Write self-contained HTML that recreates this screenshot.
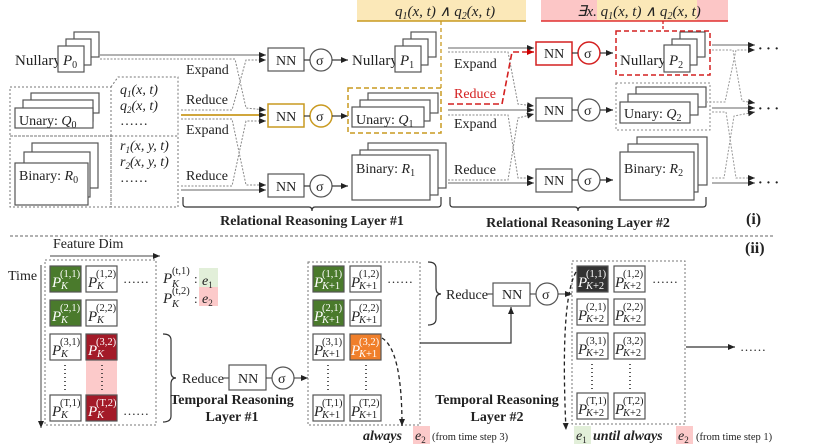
<!DOCTYPE html>
<html><head><meta charset="utf-8"><style>
html,body{margin:0;padding:0;background:#fff}
svg{display:block}
text{font-family:"Liberation Serif",serif;fill:#222}
.s{font-family:"Liberation Serif",serif;font-size:10.5px}
.i{font-style:italic}
.b{font-weight:bold}
</style></head><body>
<svg width="830" height="448" viewBox="0 0 830 448" xmlns="http://www.w3.org/2000/svg">
<defs>
<marker id="a" markerWidth="8" markerHeight="8" refX="7" refY="4" orient="auto" markerUnits="userSpaceOnUse"><path d="M0,1 L7,4 L0,7 z" fill="#222"/></marker>
<marker id="ar" markerWidth="8" markerHeight="8" refX="7" refY="4" orient="auto" markerUnits="userSpaceOnUse"><path d="M0,1 L7,4 L0,7 z" fill="#c00"/></marker>
</defs>

<!-- ===== TOP ===== -->
<rect x="357" y="0" width="169" height="21" fill="#fbe8b8"/>
<line x1="357" y1="21" x2="526" y2="21" stroke="#c99a20" stroke-width="1.5"/>
<text x="395" y="16" font-size="15" class="i">q<tspan font-size="10" dy="3">1</tspan><tspan dy="-3">(x, t) ∧ q</tspan><tspan font-size="10" dy="3">2</tspan><tspan dy="-3">(x, t)</tspan></text>
<rect x="541" y="0" width="187" height="21" fill="#fcc6c6"/>
<rect x="597" y="0" width="100" height="21" fill="#fbe8b8"/>
<line x1="541" y1="21" x2="728" y2="21" stroke="#e03030" stroke-width="1.5"/>
<text x="577" y="16" font-size="15" class="i">∃x. q<tspan font-size="10" dy="3">1</tspan><tspan dy="-3">(x, t) ∧ q</tspan><tspan font-size="10" dy="3">2</tspan><tspan dy="-3">(x, t)</tspan></text>

<!-- Nullary P0 -->
<text x="15" y="65" font-size="15">Nullary</text>
<g fill="#fff" stroke="#555" stroke-width="1.2">
<rect x="74" y="32" width="25" height="25"/><rect x="66" y="39" width="25" height="26"/><rect x="58" y="46" width="26" height="26"/>
</g>
<text x="63" y="65" font-size="15" class="i">P<tspan font-size="10" dy="3" font-style="normal">0</tspan></text>

<!-- dashed boxes left -->
<g fill="none" stroke="#777" stroke-dasharray="2,2">
<rect x="10" y="87" width="101" height="49"/>
<rect x="10" y="136" width="101" height="71"/>
<path d="M111,136 L111,87 L104,87 M111,87 L118,77 L178,77 L178,136 L111,136"/>
<rect x="111" y="136" width="67" height="71"/>
</g>
<g fill="#fff" stroke="#555" stroke-width="1.2">
<rect x="31" y="93" width="68" height="20"/><rect x="23" y="100" width="70" height="21"/><rect x="15" y="108" width="78" height="20"/>
<rect x="32" y="143" width="66" height="45"/><rect x="24" y="152" width="66" height="45"/><rect x="15" y="163" width="73" height="42"/>
</g>
<text x="19" y="125" font-size="14">Unary: <tspan class="i">Q</tspan><tspan font-size="10" dy="3">0</tspan></text>
<text x="19" y="180" font-size="14">Binary: <tspan class="i">R</tspan><tspan font-size="10" dy="3">0</tspan></text>
<g font-size="14" class="i">
<text x="120" y="94">q<tspan font-size="9" dy="3">1</tspan><tspan dy="-3">(x, t)</tspan></text>
<text x="120" y="110">q<tspan font-size="9" dy="3">2</tspan><tspan dy="-3">(x, t)</tspan></text>
<text x="120" y="150">r<tspan font-size="9" dy="3">1</tspan><tspan dy="-3">(x, y, t)</tspan></text>
<text x="120" y="166">r<tspan font-size="9" dy="3">2</tspan><tspan dy="-3">(x, y, t)</tspan></text>
</g>
<text x="120" y="125" font-size="14">……</text>
<text x="120" y="182" font-size="14">……</text>

<!-- layer 1 connectors -->
<g fill="none" stroke="#666" stroke-width="1">
<path d="M100,55 L266,55" marker-end="url(#a)"/>
<path d="M181,190 L266,190" marker-end="url(#a)"/>
</g>
<g fill="none" stroke="#888" stroke-width="1" stroke-dasharray="2,1.5">
<path d="M100,59 L235,59 L246,108 L266,110" marker-end="url(#a)"/>
<path d="M181,110 L232,110 L246,60 L266,60" marker-end="url(#a)"/>
<path d="M181,119 L232,119 L246,185 L266,185" marker-end="url(#a)"/>
<path d="M181,186 L232,186 L246,121 L266,121" marker-end="url(#a)"/>
</g>
<path d="M181,115 L266,115" stroke="#c99a20" stroke-width="1.8" fill="none" marker-end="url(#a)"/>
<g font-size="14">
<text x="186" y="74">Expand</text><text x="186" y="104">Reduce</text>
<text x="186" y="134">Expand</text><text x="186" y="180">Reduce</text>
</g>

<!-- NN layer1 -->
<g fill="#fff" stroke="#555" stroke-width="1.2">
<rect x="268" y="48" width="36" height="23"/><rect x="268" y="174" width="36" height="23"/>
<circle cx="321" cy="60" r="11"/><circle cx="321" cy="186" r="11"/>
</g>
<rect x="268" y="104" width="36" height="23" fill="#fff" stroke="#c99a20" stroke-width="1.5"/>
<circle cx="321" cy="116" r="11" fill="#fff" stroke="#c99a20" stroke-width="1.5"/>
<g stroke="#333" stroke-width="1.2"><line x1="304" y1="60" x2="310" y2="60"/><line x1="304" y1="116" x2="310" y2="116"/><line x1="304" y1="186" x2="310" y2="186"/>
<line x1="332" y1="60" x2="348" y2="60" marker-end="url(#a)"/><line x1="332" y1="116" x2="348" y2="116" marker-end="url(#a)"/><line x1="332" y1="186" x2="348" y2="186" marker-end="url(#a)"/></g>
<g font-size="14"><text x="276" y="65">NN</text><text x="276" y="121">NN</text><text x="276" y="191">NN</text>
<text x="316" y="65">σ</text><text x="316" y="121">σ</text><text x="316" y="191">σ</text></g>

<!-- layer1 outputs -->
<text x="352" y="65" font-size="15">Nullary</text>
<g fill="#fff" stroke="#555" stroke-width="1.2">
<rect x="411" y="32" width="25" height="25"/><rect x="403" y="39" width="25" height="26"/><rect x="395" y="46" width="26" height="26"/>
<rect x="368" y="93" width="70" height="20"/><rect x="360" y="100" width="70" height="21"/><rect x="352" y="107" width="72" height="20"/>
<rect x="368" y="143" width="78" height="45"/><rect x="360" y="150" width="78" height="45"/><rect x="352" y="155" width="78" height="45"/>
</g>
<text x="400" y="65" font-size="15" class="i">P<tspan font-size="10" dy="3" font-style="normal">1</tspan></text>
<text x="356" y="124" font-size="14">Unary: <tspan class="i">Q</tspan><tspan font-size="10" dy="3">1</tspan></text>
<text x="356" y="173" font-size="14">Binary: <tspan class="i">R</tspan><tspan font-size="10" dy="3">1</tspan></text>
<rect x="348" y="88" width="93" height="45" fill="none" stroke="#c99a20" stroke-width="1.5" stroke-dasharray="5,3"/>
<line x1="441" y1="21" x2="441" y2="88" stroke="#c99a20" stroke-width="1.3" stroke-dasharray="4,3"/>

<!-- layer 2 connectors -->
<g fill="none" stroke="#666" stroke-width="1">
<path d="M448,48 L534,48" marker-end="url(#a)"/>
<path d="M448,110 L534,110" marker-end="url(#a)"/>
<path d="M448,183 L534,183" marker-end="url(#a)"/>
</g>
<g fill="none" stroke="#888" stroke-width="1" stroke-dasharray="2,1.5">
<path d="M448,52 L508,52 L518,104 L534,106" marker-end="url(#a)"/>
<path d="M448,115 L508,115 L518,178 L534,178" marker-end="url(#a)"/>
<path d="M448,180 L508,180 L518,118 L534,114" marker-end="url(#a)"/>
</g>
<path d="M448,104 L502,104 L512,52 L534,52" fill="none" stroke="#d42020" stroke-width="1.6" stroke-dasharray="6,3" marker-end="url(#ar)"/>
<g font-size="14">
<text x="454" y="68">Expand</text><text x="454" y="98" style="fill:#d42020">Reduce</text>
<text x="454" y="128">Expand</text><text x="454" y="174">Reduce</text>
</g>
<g fill="#fff" stroke="#555" stroke-width="1.2">
<rect x="536" y="98" width="36" height="23"/><rect x="536" y="169" width="36" height="23"/>
<circle cx="589" cy="110" r="11"/><circle cx="589" cy="180" r="11"/>
</g>
<rect x="536" y="42" width="36" height="23" fill="#fff" stroke="#d42020" stroke-width="1.5"/>
<circle cx="589" cy="53" r="11" fill="#fff" stroke="#d42020" stroke-width="1.5"/>
<g stroke="#333" stroke-width="1.2"><line x1="572" y1="53" x2="578" y2="53"/><line x1="572" y1="110" x2="578" y2="110"/><line x1="572" y1="180" x2="578" y2="180"/>
<line x1="600" y1="53" x2="613" y2="53" marker-end="url(#a)"/><line x1="600" y1="110" x2="613" y2="110" marker-end="url(#a)"/><line x1="600" y1="180" x2="613" y2="180" marker-end="url(#a)"/></g>
<g font-size="14"><text x="544" y="58">NN</text><text x="544" y="115">NN</text><text x="544" y="185">NN</text>
<text x="584" y="58">σ</text><text x="584" y="115">σ</text><text x="584" y="185">σ</text></g>

<!-- layer2 outputs -->
<text x="620" y="65" font-size="15">Nullary</text>
<g fill="#fff" stroke="#555" stroke-width="1.2">
<rect x="680" y="32" width="25" height="25"/><rect x="672" y="39" width="25" height="26"/><rect x="664" y="45" width="26" height="27"/>
<rect x="636" y="87" width="70" height="20"/><rect x="628" y="94" width="70" height="21"/><rect x="620" y="102" width="70" height="21"/>
<rect x="637" y="137" width="70" height="48"/><rect x="628" y="144" width="70" height="48"/><rect x="620" y="152" width="74" height="48"/>
</g>
<text x="669" y="65" font-size="15" class="i">P<tspan font-size="10" dy="3" font-style="normal">2</tspan></text>
<text x="624" y="118" font-size="14">Unary: <tspan class="i">Q</tspan><tspan font-size="10" dy="3">2</tspan></text>
<text x="624" y="173" font-size="14">Binary: <tspan class="i">R</tspan><tspan font-size="10" dy="3">2</tspan></text>
<rect x="616" y="31" width="94" height="44" fill="none" stroke="#d42020" stroke-width="1.5" stroke-dasharray="5,3"/>
<path d="M663,21 L663,31" stroke="#d42020" stroke-width="1.3" stroke-dasharray="3,2"/>
<rect x="616" y="83" width="94" height="47" fill="none" stroke="#888" stroke-dasharray="2,2"/>

<!-- right connectors -->
<g fill="none" stroke="#666" stroke-width="1">
<path d="M712,45 L755,45" marker-end="url(#a)"/>
<path d="M712,108 L755,108" marker-end="url(#a)"/>
<path d="M712,183 L755,183" marker-end="url(#a)"/>
</g>
<g fill="none" stroke="#999" stroke-width="1" stroke-dasharray="2,1.5">
<path d="M712,50 L733,50 L742,101 L755,103" marker-end="url(#a)"/>
<path d="M706,102 L725,102 L736,50 L755,50" marker-end="url(#a)"/>
<path d="M712,112 L726,112 L736,178 L755,178" marker-end="url(#a)"/>
<path d="M712,178 L724,178 L734,116 L755,112" marker-end="url(#a)"/>
</g>
<g font-size="14" class="b"><text x="758" y="53">· · ·</text><text x="758" y="113">· · ·</text><text x="758" y="187">· · ·</text></g>

<!-- braces -->
<g fill="none" stroke="#333" stroke-width="1.2">
<path d="M183,197 L183,204 Q183,207 186,207 L309,207 Q312,207 312,211 Q312,207 315,207 L438,207 Q441,207 441,204 L441,197"/>
<path d="M450,197 L450,204 Q450,207 453,207 L575,207 Q578,207 578,211 Q578,207 581,207 L703,207 Q706,207 706,204 L706,197"/>
</g>
<text x="312" y="225" font-size="14" class="b" text-anchor="middle">Relational Reasoning Layer #1</text>
<text x="578" y="227" font-size="14" class="b" text-anchor="middle">Relational Reasoning Layer #2</text>
<text x="746" y="224" font-size="16" class="b">(i)</text>

<line x1="10" y1="236" x2="775" y2="236" stroke="#666" stroke-dasharray="3,2"/>
<text x="745" y="253" font-size="16" class="b">(ii)</text>

<!-- ===== BOTTOM ===== -->
<text x="53" y="248" font-size="14">Feature Dim</text>
<line x1="50" y1="256" x2="160" y2="256" stroke="#444" marker-end="url(#a)"/>
<text x="8" y="280" font-size="14">Time</text>
<line x1="41" y1="265" x2="41" y2="428" stroke="#444" marker-end="url(#a)"/>
<rect x="45" y="260" width="111" height="165" fill="none" stroke="#777" stroke-dasharray="2,2"/>
<rect x="86" y="360" width="31" height="35" fill="#fccaca"/>

<g stroke="#555" stroke-width="1.2">
<rect x="50" y="266" width="31" height="26" fill="#4a7a2c"/><rect x="86" y="266" width="31" height="26" fill="#fff"/>
<rect x="50" y="300" width="31" height="26" fill="#4a7a2c"/><rect x="86" y="300" width="31" height="26" fill="#fff"/>
<rect x="50" y="334" width="31" height="26" fill="#fff"/><rect x="86" y="334" width="31" height="26" fill="#a31a28"/>
<rect x="50" y="395" width="31" height="26" fill="#fff"/><rect x="86" y="395" width="31" height="26" fill="#a31a28"/>
</g>
<g font-size="15" class="i">
<text x="52" y="287" style="fill:#fff">P</text><text x="88" y="287">P</text>
<text x="52" y="321" style="fill:#fff">P</text><text x="88" y="321">P</text>
<text x="52" y="355">P</text><text x="88" y="355" style="fill:#fff">P</text>
<text x="52" y="416">P</text><text x="88" y="416" style="fill:#fff">P</text>
</g>
<g class="s">
<text x="60" y="277" style="fill:#fff">(1,1)</text><text x="96" y="277">(1,2)</text>
<text x="60" y="311" style="fill:#fff">(2,1)</text><text x="96" y="311">(2,2)</text>
<text x="60" y="345">(3,1)</text><text x="96" y="345" style="fill:#fff">(3,2)</text>
<text x="60" y="406">(T,1)</text><text x="96" y="406" style="fill:#fff">(T,2)</text>
</g>
<g class="i s">
<text x="61" y="289" style="fill:#fff">K</text><text x="97" y="289">K</text>
<text x="61" y="323" style="fill:#fff">K</text><text x="97" y="323">K</text>
<text x="61" y="357">K</text><text x="97" y="357" style="fill:#fff">K</text>
<text x="61" y="418">K</text><text x="97" y="418" style="fill:#fff">K</text>
</g>
<g stroke="#222" stroke-width="1.5" stroke-dasharray="1,3"><line x1="65" y1="365" x2="65" y2="392"/><line x1="102" y1="365" x2="102" y2="392"/></g>
<text x="123" y="283" font-size="13">……</text><text x="123" y="415" font-size="13">……</text>

<!-- legend -->
<rect x="199" y="268" width="19" height="19" fill="#e2efd9"/>
<rect x="199" y="287" width="19" height="19" fill="#fccaca"/>
<text x="163" y="283" font-size="15" class="i">P</text><text x="172" y="274" class="s">(t,1)</text><text x="172" y="287" class="i s">K</text>
<text x="163" y="303" font-size="15" class="i">P</text><text x="172" y="294" class="s">(t,2)</text><text x="172" y="307" class="i s">K</text>
<text x="194" y="283" font-size="13">:</text><text x="194" y="303" font-size="13">:</text>
<text x="202" y="285" font-size="14" class="i">e<tspan font-size="9" dy="3" font-style="normal">1</tspan></text>
<text x="202" y="303" font-size="14" class="i">e<tspan font-size="9" dy="3" font-style="normal">2</tspan></text>

<!-- brace temporal 1 -->
<path d="M163,334 Q171,334 171,340 L171,372 Q171,378 176,378 Q171,378 171,384 L171,416 Q171,422 163,422" fill="none" stroke="#333" stroke-width="1.2"/>
<text x="182" y="383" font-size="14">Reduce</text>
<line x1="223" y1="378" x2="229" y2="378" stroke="#333"/>
<rect x="229" y="365" width="37" height="25" fill="#fff" stroke="#555" stroke-width="1.2"/>
<text x="238" y="383" font-size="14">NN</text>
<line x1="266" y1="378" x2="272" y2="378" stroke="#333"/>
<circle cx="283" cy="378" r="11" fill="#fff" stroke="#555" stroke-width="1.2"/>
<text x="278" y="383" font-size="14">σ</text>
<line x1="294" y1="378" x2="308" y2="378" stroke="#333" marker-end="url(#a)"/>
<text x="232" y="404" font-size="14" class="b" text-anchor="middle">Temporal Reasoning</text>
<text x="232" y="421" font-size="14" class="b" text-anchor="middle">Layer #1</text>

<!-- grid 2 -->
<rect x="308" y="262" width="112" height="163" fill="none" stroke="#777" stroke-dasharray="2,2"/>
<g stroke="#555" stroke-width="1.2">
<rect x="313" y="266" width="31" height="26" fill="#4a7a2c"/><rect x="350" y="266" width="31" height="26" fill="#fff"/>
<rect x="313" y="300" width="31" height="26" fill="#4a7a2c"/><rect x="350" y="300" width="31" height="26" fill="#fff"/>
<rect x="313" y="334" width="31" height="26" fill="#fff"/><rect x="350" y="334" width="31" height="26" fill="#f07f2a"/>
<rect x="313" y="395" width="31" height="26" fill="#fff"/><rect x="350" y="395" width="31" height="26" fill="#fff"/>
</g>
<g font-size="15" class="i">
<text x="314" y="287" style="fill:#fff">P</text><text x="351" y="287">P</text>
<text x="314" y="321" style="fill:#fff">P</text><text x="351" y="321">P</text>
<text x="314" y="355">P</text><text x="351" y="355" style="fill:#fff">P</text>
<text x="314" y="416">P</text><text x="351" y="416">P</text>
</g>
<g class="s">
<text x="322" y="277" style="fill:#fff">(1,1)</text><text x="359" y="277">(1,2)</text>
<text x="322" y="311" style="fill:#fff">(2,1)</text><text x="359" y="311">(2,2)</text>
<text x="322" y="345">(3,1)</text><text x="359" y="345" style="fill:#fff">(3,2)</text>
<text x="322" y="406">(T,1)</text><text x="359" y="406">(T,2)</text>
<text x="322" y="289" style="fill:#fff"><tspan class="i">K</tspan>+1</text><text x="359" y="289"><tspan class="i">K</tspan>+1</text>
<text x="322" y="323" style="fill:#fff"><tspan class="i">K</tspan>+1</text><text x="359" y="323"><tspan class="i">K</tspan>+1</text>
<text x="322" y="357"><tspan class="i">K</tspan>+1</text><text x="359" y="357" style="fill:#fff"><tspan class="i">K</tspan>+1</text>
<text x="322" y="418"><tspan class="i">K</tspan>+1</text><text x="359" y="418"><tspan class="i">K</tspan>+1</text>
</g>
<g stroke="#222" stroke-width="1.5" stroke-dasharray="1,3"><line x1="328" y1="365" x2="328" y2="392"/><line x1="366" y1="365" x2="366" y2="392"/></g>
<text x="387" y="283" font-size="13">……</text>
<path d="M382,338 Q402,350 402,426" fill="none" stroke="#222" stroke-width="1.3" stroke-dasharray="4,3" marker-end="url(#a)"/>
<rect x="413" y="426" width="17" height="18" fill="#fccaca"/>
<text x="363" y="440" font-size="14" class="i b">always</text>
<text x="415" y="440" font-size="14" class="i">e<tspan font-size="9" dy="3" font-style="normal">2</tspan></text>
<text x="432" y="440" font-size="10.5">(from time step 3)</text>

<!-- temporal 2 -->
<path d="M428,262 Q436,262 436,268 L436,288 Q436,294 441,294 Q436,294 436,300 L436,319 Q436,325 428,325" fill="none" stroke="#333" stroke-width="1.2"/>
<text x="446" y="299" font-size="14">Reduce</text>
<line x1="487" y1="294" x2="493" y2="294" stroke="#333"/>
<rect x="493" y="283" width="37" height="23" fill="#fff" stroke="#555" stroke-width="1.2"/>
<text x="502" y="299" font-size="14">NN</text>
<line x1="530" y1="294" x2="536" y2="294" stroke="#333"/>
<circle cx="547" cy="294" r="11" fill="#fff" stroke="#555" stroke-width="1.2"/>
<text x="542" y="299" font-size="14">σ</text>
<line x1="558" y1="294" x2="572" y2="294" stroke="#333" marker-end="url(#a)"/>
<path d="M420,343 L511,343 L511,307" fill="none" stroke="#333" stroke-width="1.2" marker-end="url(#a)"/>
<text x="497" y="404" font-size="14" class="b" text-anchor="middle">Temporal Reasoning</text>
<text x="497" y="421" font-size="14" class="b" text-anchor="middle">Layer #2</text>

<!-- grid 3 -->
<rect x="572" y="261" width="113" height="163" fill="none" stroke="#777" stroke-dasharray="2,2"/>
<g stroke="#555" stroke-width="1.2">
<rect x="577" y="266" width="31" height="26" fill="#333"/><rect x="614" y="266" width="31" height="26" fill="#fff"/>
<rect x="577" y="299" width="31" height="26" fill="#fff"/><rect x="614" y="299" width="31" height="26" fill="#fff"/>
<rect x="577" y="333" width="31" height="26" fill="#fff"/><rect x="614" y="333" width="31" height="26" fill="#fff"/>
<rect x="577" y="393" width="31" height="26" fill="#fff"/><rect x="614" y="393" width="31" height="26" fill="#fff"/>
</g>
<g font-size="15" class="i">
<text x="578" y="287" style="fill:#fff">P</text><text x="615" y="287">P</text>
<text x="578" y="320">P</text><text x="615" y="320">P</text>
<text x="578" y="354">P</text><text x="615" y="354">P</text>
<text x="578" y="414">P</text><text x="615" y="414">P</text>
</g>
<g class="s">
<text x="586" y="277" style="fill:#fff">(1,1)</text><text x="623" y="277">(1,2)</text>
<text x="586" y="310">(2,1)</text><text x="623" y="310">(2,2)</text>
<text x="586" y="344">(3,1)</text><text x="623" y="344">(3,2)</text>
<text x="586" y="404">(T,1)</text><text x="623" y="404">(T,2)</text>
<text x="586" y="289" style="fill:#fff"><tspan class="i">K</tspan>+2</text><text x="623" y="289"><tspan class="i">K</tspan>+2</text>
<text x="586" y="322"><tspan class="i">K</tspan>+2</text><text x="623" y="322"><tspan class="i">K</tspan>+2</text>
<text x="586" y="356"><tspan class="i">K</tspan>+2</text><text x="623" y="356"><tspan class="i">K</tspan>+2</text>
<text x="586" y="416"><tspan class="i">K</tspan>+2</text><text x="623" y="416"><tspan class="i">K</tspan>+2</text>
</g>
<g stroke="#222" stroke-width="1.5" stroke-dasharray="1,3"><line x1="592" y1="364" x2="592" y2="390"/><line x1="630" y1="364" x2="630" y2="390"/></g>
<text x="652" y="283" font-size="13">……</text>
<line x1="686" y1="347" x2="735" y2="347" stroke="#333" stroke-width="1.2" marker-end="url(#a)"/>
<text x="740" y="351" font-size="13">……</text>
<path d="M576,272 Q560,300 566,430" fill="none" stroke="#222" stroke-width="1.3" stroke-dasharray="4,3" marker-end="url(#a)"/>
<rect x="574" y="426" width="17" height="18" fill="#e2efd9"/>
<rect x="676" y="426" width="17" height="18" fill="#fccaca"/>
<text x="576" y="440" font-size="14" class="i">e<tspan font-size="9" dy="3" font-style="normal">1</tspan></text>
<text x="593" y="440" font-size="14" class="i b">until always</text>
<text x="678" y="440" font-size="14" class="i">e<tspan font-size="9" dy="3" font-style="normal">2</tspan></text>
<text x="696" y="440" font-size="10.5">(from time step 1)</text>
</svg>
</body></html>
